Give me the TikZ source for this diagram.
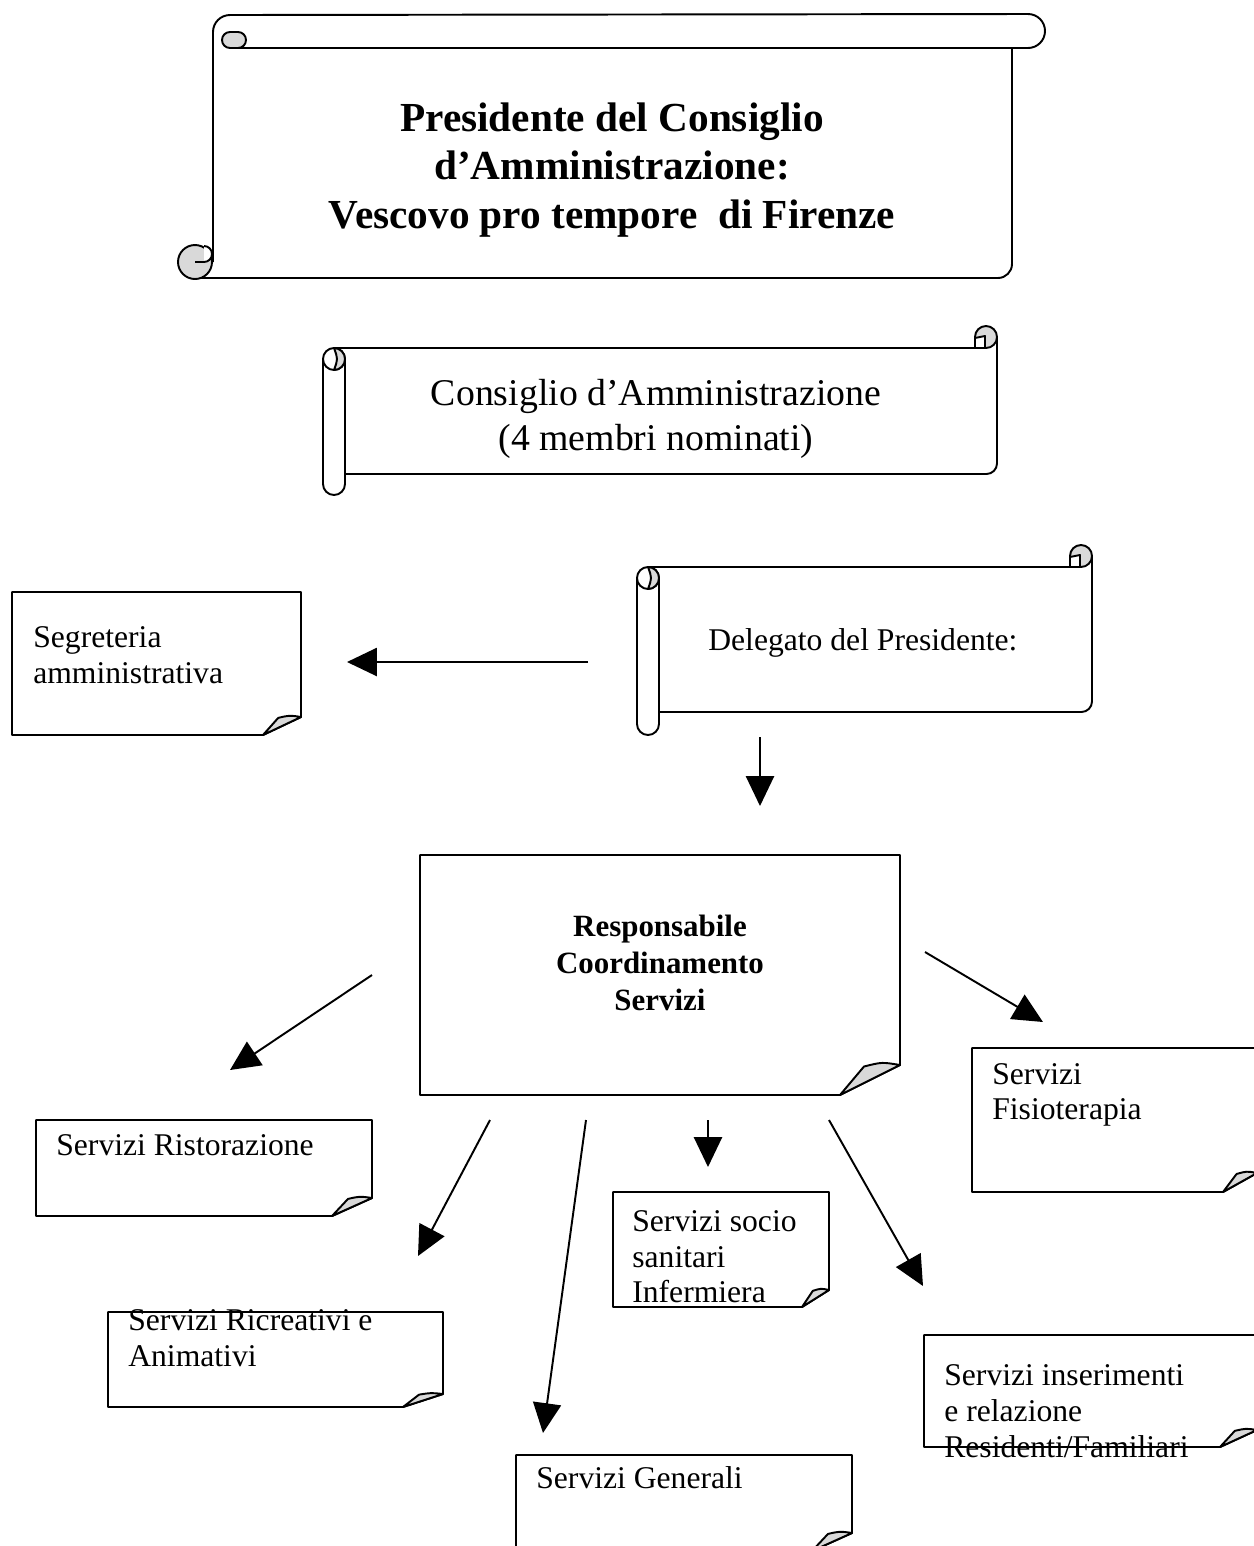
\documentclass[tikz,border=0pt]{standalone}
\usepackage{fontspec}
\setmainfont{Liberation Serif}
\usetikzlibrary{arrows.meta}
\definecolor{rollgray}{RGB}{217,217,217}
% note with folded corner: left, top, right, bottom, fold width, fold height
\newcommand{\foldnote}[6]{%
  \draw[shp,fill=white] (#1,#2) -- (#3,#2) -- (#3,#4-#6) -- (#3-#5,#4) -- (#1,#4) -- cycle;
  \draw[shp,fill=rollgray] (#3-#5,#4) -- (#3-0.6*#5,#4-0.95*#6) .. controls (#3-0.3*#5,#4-1.1*#6) .. (#3,#4-#6) -- cycle;
}
% vertical scroll: left, top, right, bottom, roll end
\newcommand{\vscroll}[5]{%
  \fill[white] (#1+11,#2) rectangle (#3,#4);
  \draw[shp] (#1+11,#2) -- (#3-11,#2);
  \draw[shp,rounded corners=6pt] (#1+22,#4) -- (#3,#4) -- (#3,#2-11);
  \draw[shp,fill=rollgray] (#3-11,#2-11) circle(11);
  \draw[shp,fill=white] (#3-22,#2) -- (#3-22,#2-10) -- (#3-12,#2-12) -- (#3-12,#2) -- cycle;
  \draw[shp,fill=white] (#1,#2+11) -- (#1,#5-11) arc(180:0:11) -- (#1+22,#2+11) -- cycle;
  \draw[shp,fill=white] (#1+11,#2+11) circle(11);
  \draw[shp,fill=rollgray] (#1+11,#2) arc(270:450:11) .. controls (#1+15,#2+11) .. cycle;
}

\begin{document}
\begin{tikzpicture}[x=0.02cm,y=-0.02cm,
  shp/.style={line width=1.1pt,draw=black,line join=round},
  arr/.style={-{Triangle[length=17pt,width=16pt]},line width=1.1pt},
  txt/.style={font=\fontsize{18}{20.3}\selectfont,align=left,anchor=west,inner sep=0pt}]

\path[use as bounding box,clip] (0,0) rectangle (1254,1546);
\fill[white] (0,0) rectangle (1254,1546);

% top scroll
\fill[white] (213,15) rectangle (1012,278);
\draw[shp] (230,48) -- (1028,48) arc(90:-90:17) -- (230,15) arc(270:180:17) -- (213,262);
\draw[shp,rounded corners=8pt] (1012,48) -- (1012,278) -- (195,278);
\draw[shp,fill=rollgray] (230,32) -- (238,32) arc(270:450:8) -- (230,48) arc(90:270:8) -- cycle;
\draw[shp,fill=rollgray] (195,262) circle(17);
\fill[white] (204,246) arc(270:450:8) -- cycle;
\draw[shp] (204,246) arc(270:450:8) -- (195,262);
\node[font=\fontsize{23.5}{27.8}\selectfont\bfseries,align=center,inner sep=0pt] (pres) at (612,170)
  {Presidente del Consiglio\\d’Amministrazione:\\Vescovo pro tempore\ \ di Firenze};

% board
\vscroll{323}{348}{997}{474}{495}
\node[font=\fontsize{21.5}{26}\selectfont,align=center,inner sep=0pt] (cda) at (656,419)
  {Consiglio d’Amministrazione\\(4 membri nominati)};

% delegate
\vscroll{637}{567}{1092}{712}{735}
\node[txt] (deleg) at (708,643) {Delegato del Presidente:};

% notes
\foldnote{12}{592}{301}{735}{38}{18}
\node[txt] (segr) at (33,655) {Segreteria\\amministrativa};

\foldnote{420}{855}{900}{1095}{60}{30}
\node[font=\fontsize{17.6}{21}\selectfont\bfseries,align=center,inner sep=0pt] (resp) at (660,963)
  {Responsabile\\Coordinamento\\Servizi};

\foldnote{36}{1120}{372}{1216}{40}{18}
\node[txt] (rist) at (56,1145) {Servizi Ristorazione};

\foldnote{108}{1312}{443}{1407}{40}{13}
\node[txt] (ricr) at (128,1338) {Servizi Ricreativi e\\Animativi};

\foldnote{516}{1455}{852}{1551}{40}{18}
\node[txt] (gen) at (536,1478) {Servizi Generali};

\foldnote{613}{1192}{829}{1307}{27}{17}
\node[txt] (socio) at (632,1257) {Servizi socio\\sanitari\\Infermiera};

\foldnote{972}{1048}{1257}{1192}{34}{19}
\node[txt] (fisio) at (992,1095) {Servizi\\Fisioterapia};

\foldnote{924}{1335}{1257}{1447}{37}{17}
\node[txt] (inser) at (944,1411) {Servizi inserimenti\\e relazione\\Residenti/Familiari};

% arrows
\coordinate (d-w) at (588,662);   \coordinate (s-e) at (347,662);
\coordinate (d-s) at (760,737);   \coordinate (r-n) at (760,806);
\coordinate (r-w) at (372,975);   \coordinate (ri-n) at (230,1070);
\coordinate (r-e) at (925,952);   \coordinate (f-w) at (1043,1022);
\coordinate (r-s1) at (490,1120); \coordinate (rc-n) at (418,1256);
\coordinate (r-s2) at (586,1120); \coordinate (g-n) at (543,1433);
\coordinate (r-s3) at (708,1120); \coordinate (so-n) at (708,1167);
\coordinate (r-s4) at (829,1120); \coordinate (in-n) at (923,1286);

\draw[arr] (d-w) -- (s-e);
\draw[arr] (d-s) -- (r-n);
\draw[arr] (r-w) -- (ri-n);
\draw[arr] (r-e) -- (f-w);
\draw[arr] (r-s1) -- (rc-n);
\draw[arr] (r-s2) -- (g-n);
\draw[arr] (r-s3) -- (so-n);
\draw[arr] (r-s4) -- (in-n);
\end{tikzpicture}
\end{document}
